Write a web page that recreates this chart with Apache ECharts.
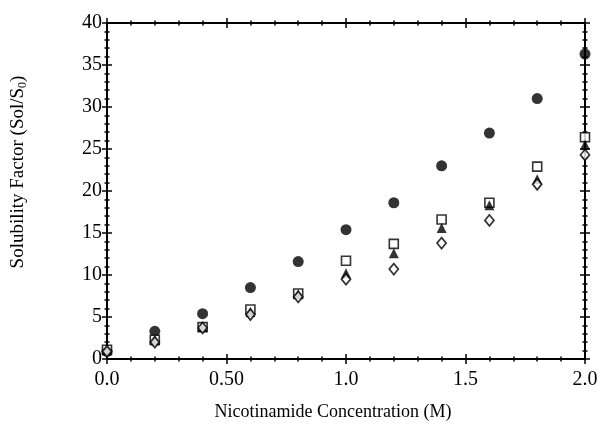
<!DOCTYPE html>
<html>
<head>
<meta charset="utf-8">
<script src="https://cdn.jsdelivr.net/npm/echarts@6/dist/echarts.min.js"></script>
<style>
  html, body { margin: 0; padding: 0; background: #fff; }
  #chart { width: 604px; height: 430px; }
</style>
</head>
<body>
<div id="chart"></div>
<script>
// nicotinamide concentration (M)
const conc = [0, 0.2, 0.4, 0.6, 0.8, 1.0, 1.2, 1.4, 1.6, 1.8, 2.0]
// solubility factor Sol/S0
const circleVals = [0.9, 3.3, 5.4, 8.5, 11.6, 15.4, 18.6, 23.0, 26.9, 31.0, 36.3]
const squareVals = [1.1, 2.3, 3.8, 5.9, 7.8, 11.7, 13.7, 16.6, 18.6, 22.9, 26.4]
const triangleVals = [1.0, 2.2, 3.8, 5.6, 7.7, 10.2, 12.6, 15.6, 18.3, 21.4, 25.5]
const diamondVals = [0.9, 2.0, 3.7, 5.3, 7.4, 9.5, 10.7, 13.8, 16.5, 20.8, 24.3]
const xTickLabels = ['0.0', '0.50', '1.0', '1.5', '2.0']

const font = "'Liberation Serif', 'Times New Roman', serif"
const chart = echarts.init(document.getElementById('chart'))

function pairs (vals) {
  return conc.map((c, i) => [c, vals[i]])
}

// one axis = one side of the frame; pairs of them give ticks crossing the line
function makeAxis (dim, position, inside, withLabels) {
  const isX = dim === 'x'
  const ax = {
    type: 'value',
    position: position,
    min: 0,
    max: isX ? 2 : 40,
    interval: isX ? 0.5 : 5,
    axisLine: { show: true, onZero: false, lineStyle: { color: '#000', width: 2 } },
    axisTick: { show: true, inside: inside, length: 5, lineStyle: { color: '#000', width: 1.5 } },
    minorTick: { show: true, splitNumber: 5, length: 2.5, lineStyle: { color: '#000', width: 1.5 } },
    splitLine: { show: false },
    axisLabel: { show: false }
  }
  if (withLabels) {
    ax.axisLabel = {
      show: true,
      color: '#000',
      fontFamily: font,
      fontSize: 20,
      margin: isX ? 11 : 5,
      formatter: isX ? (v) => xTickLabels[Math.round(v / 0.5)] : (v) => String(v)
    }
  }
  return ax
}

const xAxes = [
  makeAxis('x', 'bottom', false, true),
  makeAxis('x', 'bottom', true, false),
  makeAxis('x', 'top', false, false),
  makeAxis('x', 'top', true, false)
]
xAxes[0].name = 'Nicotinamide Concentration (M)'
xAxes[0].nameLocation = 'middle'
xAxes[0].nameGap = 44
xAxes[0].nameTextStyle = { color: '#000', fontFamily: font, fontSize: 18, padding: [0, 26, 0, 0] }

const yAxes = [
  makeAxis('y', 'left', false, true),
  makeAxis('y', 'left', true, false),
  makeAxis('y', 'right', false, false),
  makeAxis('y', 'right', true, false)
]
yAxes[0].name = 'Solubility Factor (Sol/S{sub|0})'
yAxes[0].nameLocation = 'middle'
yAxes[0].nameGap = 78
yAxes[0].nameTextStyle = {
  color: '#000',
  fontFamily: font,
  fontSize: 19,
  padding: [0, 0, 0, 38],
  rich: {
    sub: { fontFamily: font, fontSize: 12, color: '#000', verticalAlign: 'bottom', padding: [9, 0, 0, 0] }
  }
}

const option = {
  animation: false,
  backgroundColor: '#fff',
  grid: { left: 107, right: 19, top: 23, bottom: 71 },
  xAxis: xAxes,
  yAxis: yAxes,
  series: [
    {
      name: 'circle',
      type: 'scatter',
      symbol: 'circle',
      symbolSize: 11,
      itemStyle: { color: '#000' },
      data: pairs(circleVals)
    },
    {
      name: 'square',
      type: 'scatter',
      symbol: 'rect',
      symbolSize: 9,
      itemStyle: { color: '#fff', borderColor: '#000', borderWidth: 1.6 },
      data: pairs(squareVals)
    },
    {
      name: 'triangle',
      type: 'scatter',
      symbol: 'triangle',
      symbolSize: 10,
      itemStyle: { color: '#000' },
      data: pairs(triangleVals)
    },
    {
      name: 'diamond',
      type: 'scatter',
      symbol: 'diamond',
      symbolSize: [9, 11],
      itemStyle: { color: '#fff', borderColor: '#000', borderWidth: 1.8 },
      data: pairs(diamondVals)
    }
  ]
}

chart.setOption(option)
</script>
</body>
</html>
